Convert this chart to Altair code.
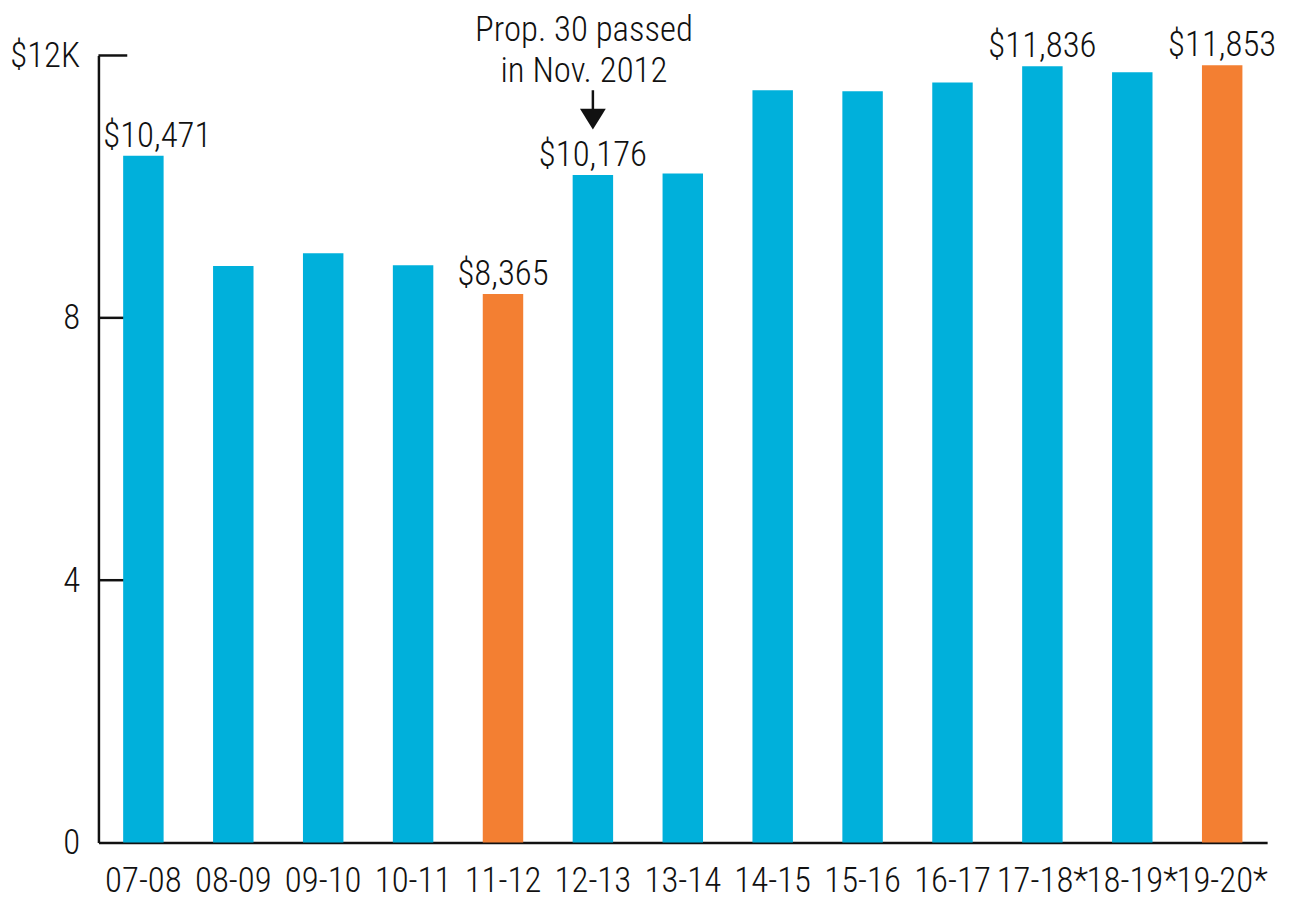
import altair as alt
import pandas as pd

years = ["07-08", "08-09", "09-10", "10-11", "11-12", "12-13", "13-14",
         "14-15", "15-16", "16-17", "17-18*", "18-19*", "19-20*"]
spending = [10471, 8790, 8985, 8800, 8365, 10176, 10200,
            11470, 11455, 11590, 11836, 11745, 11853]
group = ["base", "base", "base", "base", "hl", "base", "base",
         "base", "base", "base", "base", "base", "hl"]
value_labels = ["$10,471", "", "", "", "$8,365", "$10,176", "",
                "", "", "", "$11,836", "", "$11,853"]
y_ticks = [0, 4000, 8000, 12000]
inner_ticks = [4000, 8000, 12000]
note_lines = ["Prop. 30 passed", "in Nov. 2012"]
note_year = "12-13"
note_value = 10176
arrow_top = 11470
arrow_head = 11030

FONT = "Roboto Condensed, Noto Sans Condensed, Open Sans Condensed, Liberation Sans Narrow, Arial Narrow, DejaVu Sans Condensed"
FS = 35
FW = 300
BLUE = "#00B0DB"
ORANGE = "#F37F32"
INK = "#111111"

df = pd.DataFrame({"year": years, "value": spending, "group": group, "label": value_labels})
lab = df[df["label"] != ""]
first_lab = lab.iloc[:1]
other_lab = lab.iloc[1:]

xscale = alt.Scale(domain=years, paddingInner=0.55, paddingOuter=0.275)
yscale = alt.Scale(domain=[0, 12000], nice=False)

X = alt.X("year:N", scale=xscale, sort=years,
          axis=alt.Axis(title=None, labelAngle=0, ticks=False, tickSize=0,
                        labelPadding=21, labelFontSize=FS, labelFont=FONT, labelFontWeight=FW,
                        labelColor=INK, domainColor=INK, domainWidth=2.5))
Y = alt.Y("value:Q", scale=yscale,
          axis=alt.Axis(title=None, values=y_ticks, ticks=False, tickSize=0, grid=False,
                        labelPadding=19, labelFontSize=FS, labelFont=FONT, labelFontWeight=FW,
                        labelColor=INK, domainColor=INK, domainWidth=2.5,
                        labelExpr="datum.value == 12000 ? '$12K' : format(datum.value / 1000, 'd')"))

ticks = alt.Chart(pd.DataFrame({"value": inner_ticks})).mark_rule(
    color=INK, strokeWidth=2.5
).encode(y=alt.Y("value:Q", scale=yscale), x=alt.value(0), x2=alt.value(29))

bars = alt.Chart(df).mark_bar().encode(
    x=X, y=Y,
    color=alt.Color("group:N", scale=alt.Scale(domain=["base", "hl"], range=[BLUE, ORANGE]), legend=None),
)

txt_kw = dict(font=FONT, fontSize=FS, fontWeight=FW, color=INK, baseline="alphabetic", align="center")
labels_first = alt.Chart(first_lab).mark_text(dy=-9, dx=14, **txt_kw).encode(
    x=alt.X("year:N", scale=xscale, sort=years), y=alt.Y("value:Q", scale=yscale), text="label:N")
labels_other = alt.Chart(other_lab).mark_text(dy=-9, **txt_kw).encode(
    x=alt.X("year:N", scale=xscale, sort=years), y=alt.Y("value:Q", scale=yscale), text="label:N")

note_df1 = pd.DataFrame({"year": [note_year], "value": [note_value], "t": [note_lines[0]]})
note_df2 = pd.DataFrame({"year": [note_year], "value": [note_value], "t": [note_lines[1]]})
note1 = alt.Chart(note_df1).mark_text(dy=-135, dx=-9, **txt_kw).encode(
    x=alt.X("year:N", scale=xscale, sort=years), y=alt.Y("value:Q", scale=yscale), text="t:N")
note2 = alt.Chart(note_df2).mark_text(dy=-94, dx=-9, **txt_kw).encode(
    x=alt.X("year:N", scale=xscale, sort=years), y=alt.Y("value:Q", scale=yscale), text="t:N")

arrow_df = pd.DataFrame({"year": [note_year], "top": [arrow_top], "head": [arrow_head]})
shaft = alt.Chart(arrow_df).mark_rule(color=INK, strokeWidth=2.5).encode(
    x=alt.X("year:N", scale=xscale, sort=years),
    y=alt.Y("top:Q", scale=yscale), y2="head:Q")
head = alt.Chart(arrow_df).mark_point(
    shape="M-1,-0.8L1,-0.8L0,0.8Z", filled=True, size=676, color=INK, opacity=1
).encode(x=alt.X("year:N", scale=xscale, sort=years), y=alt.Y("head:Q", scale=yscale))

chart = alt.layer(ticks, bars, labels_first, labels_other, note1, note2, shaft, head).properties(
    width=1176, height=792,
    autosize=alt.AutoSizeParams(type="none"),
    padding={"left": 91, "top": 45, "right": 22, "bottom": 54},
    background="white",
).configure_view(stroke=None)

chart.save("out.html", embed_options={"renderer": "svg", "actions": False})
